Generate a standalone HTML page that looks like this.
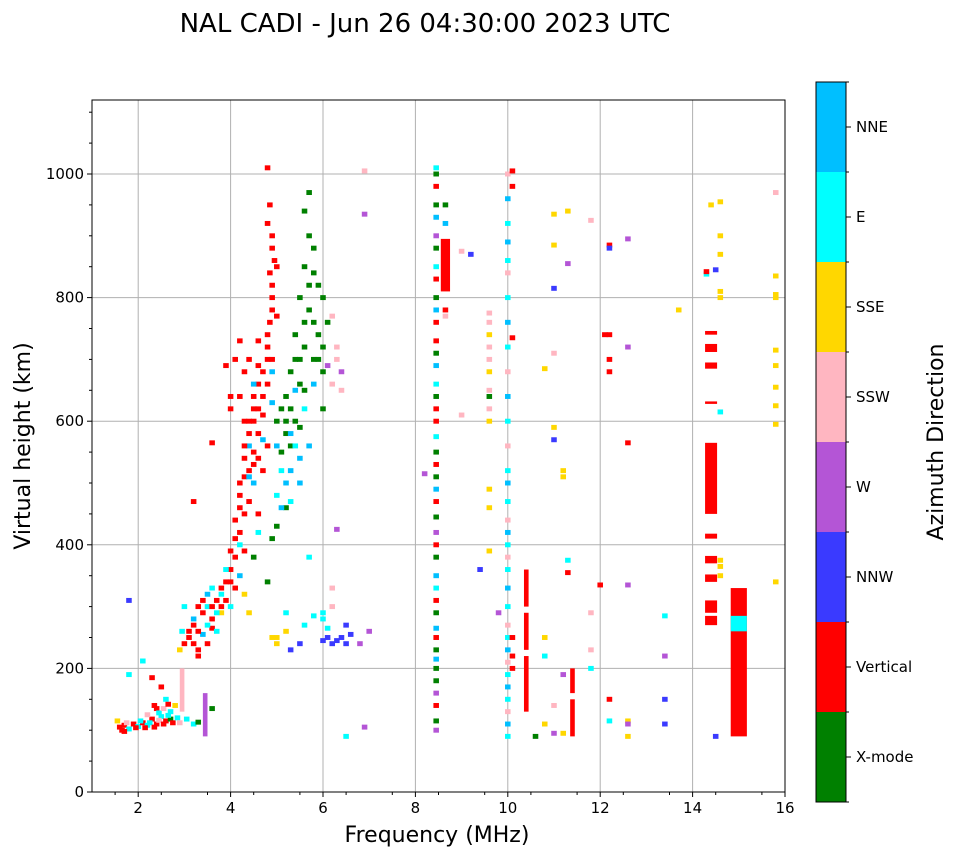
<!DOCTYPE html>
<html><head><meta charset="utf-8"><style>
html,body{margin:0;padding:0;background:#fff;}
svg{display:block;font-family:"DejaVu Sans","Liberation Sans",sans-serif;}
</style></head><body>
<svg id="chart" width="958" height="857" viewBox="0 0 958 857">
<text x="425" y="32" font-size="26" text-anchor="middle">NAL CADI - Jun 26 04:30:00 2023 UTC</text>
<g id="grid"></g>
<g id="marks"></g>
<rect x="92" y="100" width="693" height="692" fill="none" stroke="#000" stroke-width="1"/>
<g id="axes"></g>
<text x="437" y="842" font-size="22" text-anchor="middle">Frequency (MHz)</text>
<text x="30" y="446" font-size="22" text-anchor="middle" transform="rotate(-90 30 446)">Virtual height (km)</text>
<g id="cbar"></g>
<text x="943" y="442" font-size="22" text-anchor="middle" transform="rotate(-90 943 442)">Azimuth Direction</text>
</svg>
<script>
const dirLabels = ["X-mode","Vertical","NNW","W","SSW","SSE","E","NNE"];
const dirColors = ["#008000","#ff0000","#3a3aff","#b455d6","#ffb6c1","#ffd700","#00ffff","#00bfff"];
const xTicks = [2,4,6,8,10,12,14,16];
const yTicks = [0,200,400,600,800,1000];
// [freq MHz, height km, direction index]
const lowCluster = [[1.6,105,1],[1.7,108,1],[1.8,102,6],[1.9,110,1],[2.0,106,6],[2.1,112,1],[2.2,108,6],[2.3,118,1],[2.4,110,1],[2.5,122,6],[2.6,115,1],[2.7,130,6],[2.8,140,5],[1.55,115,5],[2.2,125,4],[2.4,135,1],[2.6,150,6],[2.5,170,1],[2.3,185,1],[2.1,212,6],[1.8,190,6],[1.8,310,2],[2.7,118,0],[3.2,110,6],[3.3,113,0],[3.6,135,0],[1.65,100,1],[1.75,112,4],[1.95,104,1],[2.05,115,6],[2.15,104,1],[2.25,112,6],[2.35,105,1],[2.45,116,4],[2.55,110,1],[2.65,124,6],[2.75,112,1],[2.85,120,6],[2.45,128,6],[2.35,140,1],[2.55,135,4],[2.65,142,1],[1.7,98,1],[2.9,112,4],[3.05,118,6]];
const riseCurve = [[2.9,230,5],[3.0,240,1],[2.95,260,6],[3.0,300,6],[3.1,250,1],[3.2,270,1],[3.3,230,1],[3.4,290,1],[3.5,300,6],[3.6,280,1],[3.7,310,1],[3.8,320,6],[3.9,340,1],[4.0,360,1],[4.1,380,1],[4.2,420,1],[4.3,450,1],[4.2,500,1],[4.3,540,1],[4.4,600,1],[4.5,640,1],[4.6,580,1],[4.7,520,1],[4.8,660,1],[4.9,700,1],[4.9,800,1],[5.0,850,1],[4.9,900,1],[4.85,950,1],[4.8,1010,1],[4.4,700,1],[4.2,730,1],[4.0,620,1],[3.2,240,1],[3.4,255,7],[3.6,265,1],[3.8,290,5],[3.5,320,7],[3.3,220,1],[4.0,300,6],[4.1,330,1],[4.2,350,7],[4.3,390,1],[4.4,470,1],[4.5,500,7],[4.6,540,1],[4.7,610,1],[4.9,630,7],[4.6,690,1],[4.8,740,1],[5.0,770,1],[4.9,880,1],[3.2,470,1],[3.6,565,1],[4.4,560,7],[4.8,560,1],[4.6,450,1],[4.9,680,7]];
const denseCurve = [[3.1,260,1],[3.2,280,7],[3.3,300,1],[3.4,310,1],[3.5,270,6],[3.6,300,1],[3.7,290,6],[3.8,330,1],[3.9,310,1],[3.9,360,6],[4.0,340,1],[4.0,390,1],[4.1,410,1],[4.1,440,1],[4.2,460,1],[4.2,480,1],[4.3,510,1],[4.3,560,1],[4.4,520,1],[4.4,580,1],[4.5,550,1],[4.5,600,1],[4.5,620,1],[4.6,620,1],[4.6,660,1],[4.7,640,1],[4.7,680,1],[4.8,700,1],[4.8,720,1],[4.85,760,1],[4.9,780,1],[4.9,820,1],[4.95,860,1],[4.85,840,1],[4.8,920,1],[3.3,260,1],[3.5,240,1],[3.7,260,6],[3.6,330,6],[3.8,300,1],[4.2,400,6],[4.4,510,7],[4.5,530,1],[4.7,570,7],[4.3,600,1],[4.5,660,7],[4.2,640,1],[4.3,680,1],[4.6,730,1],[4.1,700,1],[3.9,690,1],[4.0,640,1],[5.0,560,7],[5.1,520,6],[5.2,580,0],[5.3,620,0],[5.4,600,0],[5.5,660,0],[5.5,700,0],[5.6,720,0],[5.6,760,0],[5.7,780,0],[5.7,820,0],[5.8,840,0],[5.8,880,0],[5.6,940,0],[5.9,740,0],[6.0,720,0],[5.1,620,0],[5.3,560,0],[5.4,650,7],[5.5,540,7],[5.2,460,0],[5.0,430,0],[5.8,660,7],[5.9,700,0],[6.1,760,0],[6.0,800,0],[5.3,470,6],[5.5,500,7]];
const greenCurve = [[5.0,600,0],[5.1,550,0],[5.2,640,0],[5.3,680,0],[5.4,740,0],[5.5,800,0],[5.6,850,0],[5.7,900,0],[5.7,970,0],[5.8,700,0],[6.0,680,0],[5.3,520,7],[5.2,500,7],[5.4,560,6],[5.0,480,6],[5.6,620,6],[4.6,420,6],[4.5,380,0],[4.8,340,0],[4.3,320,5],[4.4,290,5],[5.5,590,0],[5.6,650,0],[5.8,760,0],[5.9,820,0],[5.2,600,0],[5.4,700,0],[5.1,460,7],[4.9,410,0],[5.3,580,7],[5.7,560,7],[6.0,620,0]];
const tail = [[5.3,230,2],[5.5,240,2],[6.0,245,2],[6.2,240,2],[6.4,250,2],[6.6,255,2],[6.8,240,3],[7.0,260,3],[6.0,280,6],[6.2,300,4],[5.2,290,6],[4.9,250,5],[6.2,330,4],[6.1,690,3],[6.3,720,4],[6.4,680,3],[6.2,770,4],[6.4,650,4],[5.0,240,5],[5.6,270,6],[5.8,285,6],[6.5,270,2],[6.9,1005,4],[6.9,935,3],[6.3,425,3],[6.5,90,6],[6.9,105,3],[5.7,380,6],[6.1,250,2],[6.3,245,2],[6.5,240,2],[6.1,265,6],[6.0,290,6],[6.3,700,4],[6.2,660,4],[5.2,260,5],[5.0,250,5]];
const strip845 = [[8.45,100,3],[8.45,115,0],[8.45,140,1],[8.45,160,3],[8.45,180,0],[8.45,200,0],[8.45,215,7],[8.45,230,0],[8.45,250,1],[8.45,265,7],[8.45,290,0],[8.45,310,1],[8.45,330,6],[8.45,350,7],[8.45,380,0],[8.45,400,1],[8.45,420,3],[8.45,445,0],[8.45,470,1],[8.45,490,7],[8.45,510,0],[8.45,530,1],[8.45,550,0],[8.45,575,6],[8.45,600,1],[8.45,620,1],[8.45,640,0],[8.45,660,6],[8.45,690,7],[8.45,710,0],[8.45,730,1],[8.45,760,1],[8.45,780,7],[8.45,800,0],[8.45,830,1],[8.45,850,6],[8.45,880,0],[8.45,900,3],[8.45,930,7],[8.45,950,0],[8.45,980,1],[8.45,1000,0],[8.45,1010,6],[8.65,950,0],[8.65,920,7],[8.65,780,1],[8.65,770,4],[8.2,515,3],[9.0,875,4],[9.0,610,4],[9.2,870,2],[9.4,360,2],[9.8,290,3]];
const strip96 = [[9.6,600,5],[9.6,620,4],[9.6,650,4],[9.6,680,5],[9.6,700,4],[9.6,720,4],[9.6,740,5],[9.6,760,4],[9.6,775,4],[9.6,640,0],[9.6,490,5],[9.6,460,5],[9.6,390,5]];
const strip100 = [[10.0,90,6],[10.0,110,7],[10.0,130,4],[10.0,150,6],[10.0,170,7],[10.0,190,6],[10.0,210,4],[10.0,230,7],[10.0,250,6],[10.0,270,4],[10.0,300,6],[10.0,330,7],[10.0,360,6],[10.0,380,4],[10.0,400,6],[10.0,420,7],[10.0,440,4],[10.0,470,6],[10.0,500,7],[10.0,520,6],[10.0,560,4],[10.0,600,6],[10.0,640,7],[10.0,680,4],[10.0,720,6],[10.0,760,7],[10.0,800,6],[10.0,840,4],[10.0,860,6],[10.0,890,7],[10.0,920,6],[10.0,960,7],[10.0,1000,4],[10.1,1005,1],[10.1,980,1],[10.1,735,1],[10.1,250,1],[10.1,220,1],[10.1,200,1]];
const scatterRight = [[15.8,970,4],[15.8,835,5],[15.8,800,5],[15.8,805,5],[15.8,715,5],[15.8,690,5],[15.8,655,5],[15.8,625,5],[15.8,595,5],[15.8,340,5],[14.4,950,5],[14.6,955,5],[14.6,900,5],[14.6,870,5],[14.6,810,5],[14.6,800,5],[14.6,375,5],[14.6,365,5],[14.6,350,5],[12.6,895,3],[12.6,720,3],[12.6,565,1],[12.2,885,1],[12.2,880,2],[12.2,740,1],[12.2,700,1],[12.2,680,1],[13.4,220,3],[13.4,150,2],[13.4,110,2],[12.6,115,5],[12.6,110,3],[12.6,90,5],[12.2,150,1],[12.2,115,6],[11.0,95,3],[10.6,90,0],[11.0,935,5],[11.0,885,5],[11.0,815,2],[11.3,940,5],[11.3,855,3],[11.8,925,4],[12.1,740,1],[14.5,845,2],[14.5,90,2],[14.3,838,6],[14.3,842,1],[13.7,780,5],[14.6,615,6],[11.0,710,4],[11.0,590,5],[11.0,570,2],[10.8,685,5],[11.2,520,5],[11.2,510,5],[11.0,140,4],[11.3,375,6],[11.3,355,1],[12.0,335,1],[12.6,335,3],[13.4,285,6],[11.8,290,4],[11.8,230,4],[11.8,200,6],[10.8,250,5],[10.8,220,6],[11.2,190,3],[10.8,110,5],[11.2,95,5]];
// [freq, bottom km, top km, width MHz, dir]
const bars = [[3.45,90,160,0.1,3],[2.95,130,200,0.1,4],[8.65,810,895,0.2,1],[10.4,300,360,0.1,1],[10.4,230,290,0.1,1],[10.4,130,220,0.1,1],[11.4,160,200,0.1,1],[11.4,90,150,0.1,1],[14.4,450,565,0.26,1],[14.4,410,418,0.26,1],[14.4,370,382,0.26,1],[14.4,340,352,0.26,1],[14.4,290,310,0.26,1],[14.4,270,285,0.26,1],[14.4,685,695,0.26,1],[14.4,712,725,0.26,1],[14.4,740,746,0.26,1],[14.4,628,632,0.26,1],[15.0,90,330,0.35,1],[15.0,260,285,0.35,6]];

const X0=92,X1=785,Y0=792,Y1=100,FMIN=1,FMAX=16,HMAX=(792-100)/0.618;
const NS="http://www.w3.org/2000/svg";
function xs(f){return X0+(f-FMIN)/(FMAX-FMIN)*(X1-X0);}
function ys(h){return Y0-h/HMAX*(Y0-Y1);}
function mk(tag,attrs,parent){const e=document.createElementNS(NS,tag);for(const k in attrs)e.setAttribute(k,attrs[k]);parent.appendChild(e);return e;}
const grid=document.getElementById('grid'),marks=document.getElementById('marks'),axes=document.getElementById('axes'),cbar=document.getElementById('cbar');
xTicks.forEach(t=>{const x=xs(t);
 if(t<16){const l=mk('line',{x1:x,x2:x,y1:Y1,y2:Y0,stroke:'#b0b0b0','stroke-width':1},grid);}
 const tk=mk('line',{x1:x,x2:x,y1:Y0,y2:Y0+5,stroke:'#000'},axes);
 const tx=mk('text',{x:x,y:Y0+21,'font-size':15,'text-anchor':'middle'},axes);tx.textContent=t;});
for(let f=1.5;f<16;f+=1){const x=xs(f);const m=mk('line',{x1:x,x2:x,y1:Y0,y2:Y0+3,stroke:'#000'},axes);}
yTicks.forEach(t=>{const y=ys(t);
 if(t>0){const l=mk('line',{x1:X0,x2:X1,y1:y,y2:y,stroke:'#b0b0b0','stroke-width':1},grid);}
 const tk=mk('line',{x1:X0-5,x2:X0,y1:y,y2:y,stroke:'#000'},axes);
 const tx=mk('text',{x:X0-8,y:y+5,'font-size':15,'text-anchor':'end'},axes);tx.textContent=t;});
for(let h=50;h<HMAX;h+=50){if(h%200===0)continue;const y=ys(h);const m=mk('line',{x1:X0-3,x2:X0,y1:y,y2:y,stroke:'#000'},axes);}
[lowCluster,riseCurve,denseCurve,greenCurve,tail,strip845,strip96,strip100,scatterRight].forEach(g=>g.forEach(c=>{
 const x=xs(c[0]-0.06),w=xs(c[0]+0.06)-x,y=ys(c[1]+4),hh=ys(c[1]-4)-y;
 const r=mk('rect',{x:x,y:y,width:w,height:hh,fill:dirColors[c[2]]},marks);}));
bars.forEach(b=>{const x=xs(b[0]-b[3]/2),w=xs(b[0]+b[3]/2)-x,y=ys(b[2]),hh=ys(b[1])-y;
 const r=mk('rect',{x:x,y:y,width:w,height:hh,fill:dirColors[b[4]]},marks);});
const CB0=82,CB1=802,CBX=816,CBW=30,seg=(CB1-CB0)/dirLabels.length;
dirLabels.forEach((lab,i)=>{const top=CB1-(i+1)*seg;
 const r=mk('rect',{x:CBX,y:top,width:CBW,height:seg,fill:dirColors[i]},cbar);
 const tk=mk('line',{x1:CBX+CBW,x2:CBX+CBW+5,y1:top+seg/2,y2:top+seg/2,stroke:'#000'},cbar);
 const tx=mk('text',{x:CBX+CBW+10,y:top+seg/2+5,'font-size':15},cbar);tx.textContent=lab;});
for(let i=0;i<=dirLabels.length;i++){const y=CB0+i*seg;const m=mk('line',{x1:CBX+CBW,x2:CBX+CBW+3,y1:y,y2:y,stroke:'#000'},cbar);}
const fr=mk('rect',{x:CBX,y:CB0,width:CBW,height:CB1-CB0,fill:'none',stroke:'#000'},cbar);
</script>
</body></html>
